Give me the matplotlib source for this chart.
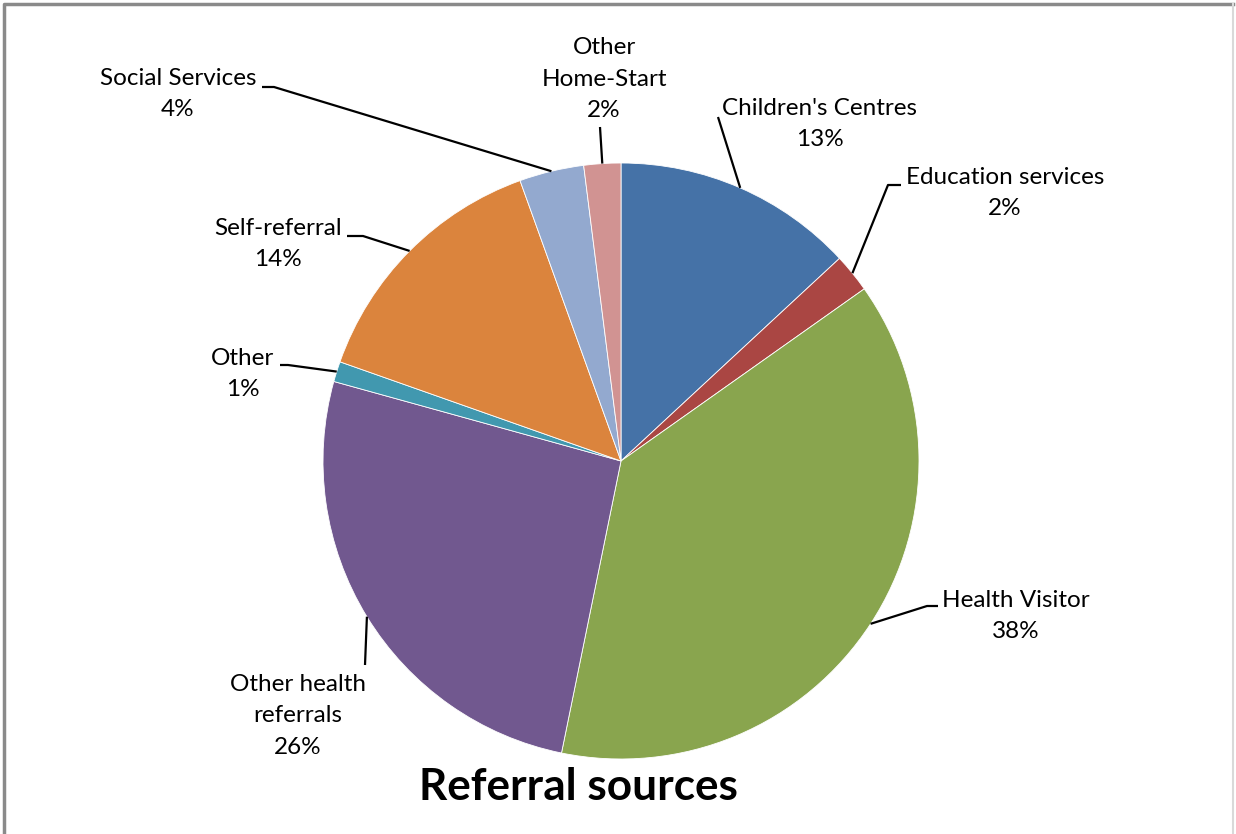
import matplotlib
matplotlib.use("Agg")
import matplotlib.pyplot as plt
import numpy as np

plt.rcParams["font.family"] = ["Lato", "DejaVu Sans"]

categories = [
    "Children's Centres",
    "Education services",
    "Health Visitor",
    "Other health\nreferrals",
    "Other",
    "Self-referral",
    "Social Services",
    "Other\nHome-Start",
]
shares = [13.1, 2.1, 38.0, 26.1, 1.1, 14.1, 3.5, 2.0]
colors = ["#4572A7", "#AA4643", "#89A54E", "#71588F",
          "#4198AF", "#DB843D", "#93A9CF", "#D19392"]

W, H = 1236, 834
CX, CY, R = 621, H - 461, 298

# label layout in pixel coords (y measured from top): text centre, elbow, end of leader
label_pos = [(820, 124), (1005, 193), (1016, 616), (298, 716),
             (243, 374), (278, 244), (178, 94), (604, 79)]
elbows = [(718, 117), (888, 185), (927, 606), (365, 665),
          (288, 365), (363, 236), (274, 87), (600, 127)]
ends = [(718, 117), (901, 185), (938, 606), (365, 665),
        (280, 365), (347, 236), (262, 87), (600, 127)]

fig = plt.figure(figsize=(W / 100, H / 100), dpi=100)
ax = fig.add_axes([0, 0, 1, 1])

wedges, _ = ax.pie(shares, colors=colors, startangle=90, counterclock=False,
                   center=(CX, CY), radius=R, frame=True,
                   wedgeprops=dict(linewidth=0.6, edgecolor="white"))
ax.set_xlim(0, W)
ax.set_ylim(0, H)
ax.set_aspect("equal")
ax.axis("off")

for w, name, val, pos, el, en in zip(wedges, categories, shares, label_pos, elbows, ends):
    mid = np.deg2rad((w.theta1 + w.theta2) / 2)
    sx, sy = CX + R * np.cos(mid), CY + R * np.sin(mid)
    ax.plot([sx, el[0], en[0]], [sy, H - el[1], H - en[1]],
            color="black", lw=1.6, solid_capstyle="butt")
    ax.text(pos[0], H - pos[1], f"{name}\n{round(val)}%", ha="center", va="center",
            fontsize=17.5, linespacing=1.63, color="black")

ax.text(578, H - 787, "Referral sources", ha="center", va="center",
        fontsize=31.8, fontweight="bold", color="black")

# chart border
ax.plot([4, 4, W - 3], [0, H - 4, H - 4], color="#8a8a8a", lw=2.5)
ax.plot([W - 3, W - 3], [0, H - 4], color="#d9d9d9", lw=1.5)

fig.savefig("out.png", dpi=100)
